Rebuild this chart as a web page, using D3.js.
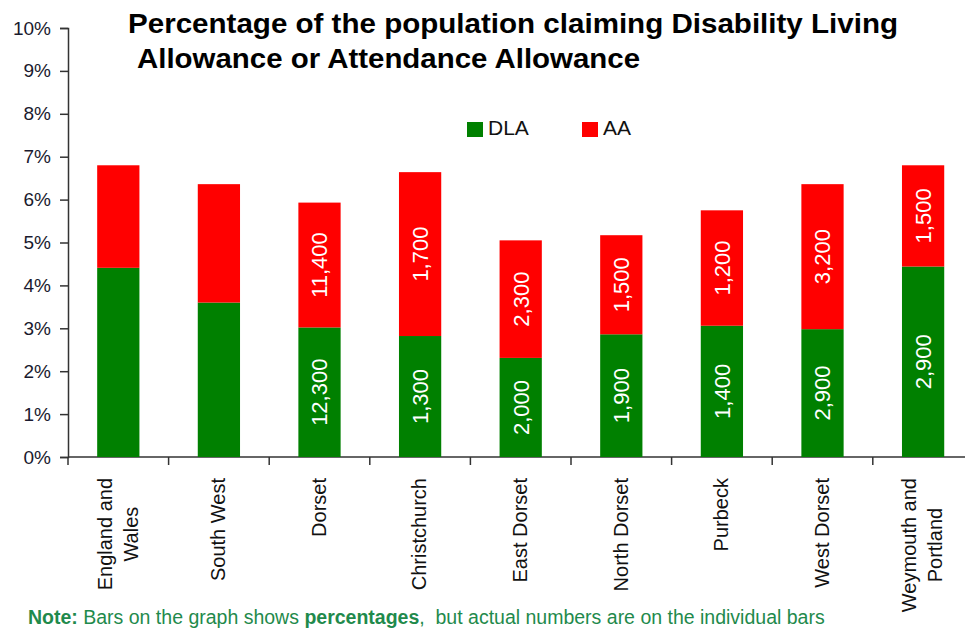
<!DOCTYPE html>
<html>
<head>
<meta charset="utf-8">
<script src="https://cdn.jsdelivr.net/npm/d3@7"></script>
<style>
  html, body { margin: 0; padding: 0; background: #fff; }
  svg { display: block; font-family: "Liberation Sans", Arial, sans-serif; }
</style>
</head>
<body>
<svg id="chart" width="965" height="631"></svg>
<script>
// Areas shown along the x axis (each entry is one or two text lines)
const areas = [
  ["England and", "Wales"],
  ["South West"],
  ["Dorset"],
  ["Christchurch"],
  ["East Dorset"],
  ["North Dorset"],
  ["Purbeck"],
  ["West Dorset"],
  ["Weymouth and", "Portland"]
];
// Share of the population claiming each allowance (%)
const dlaPct = [4.41, 3.60, 3.02, 2.82, 2.31, 2.86, 3.06, 2.98, 4.44];
const aaPct  = [2.39, 2.76, 2.91, 3.82, 2.74, 2.31, 2.69, 3.38, 2.36];
// Number of claimants printed on the bars (null = no label)
const dlaCount = [null, null, "12,300", "1,300", "2,000", "1,900", "1,400", "2,900", "2,900"];
const aaCount  = [null, null, "11,400", "1,700", "2,300", "1,500", "1,200", "3,200", "1,500"];
const yTicks = [0, 1, 2, 3, 4, 5, 6, 7, 8, 9, 10];

const svg = d3.select("#chart");
const colors = { DLA: "#008000", AA: "#ff0000" };

const x = d3.scaleBand()
  .domain(d3.range(areas.length))
  .range([68, 68 + 9 * 100.6])
  .paddingInner(0.58)
  .paddingOuter(0.29);

const y = d3.scaleLinear().domain([0, 10]).range([457, 28]);

// Axes
const yAxis = d3.axisLeft(y).tickValues(yTicks).tickFormat(d => d + "%").tickSize(8).tickPadding(9);
const gy = svg.append("g").attr("transform", "translate(68,0)").call(yAxis);
gy.select(".domain").attr("stroke", "#333").attr("stroke-width", 1.5);
gy.selectAll(".tick line").attr("stroke", "#333").attr("stroke-width", 1.5);
gy.selectAll(".tick text").attr("font-size", 19).attr("fill", "#1a1a2e")
  .attr("font-family", "Liberation Sans, Arial, sans-serif");

// x axis baseline with ticks at category boundaries
const step = x.step();
const boundaries = d3.range(areas.length + 1).map(i => 68 + i * step);
svg.append("line").attr("x1", 68).attr("x2", 965).attr("y1", y(0)).attr("y2", y(0))
  .attr("stroke", "#333").attr("stroke-width", 1.5);
svg.selectAll(".xtick").data(boundaries).join("line")
  .attr("class", "xtick")
  .attr("x1", d => d).attr("x2", d => d)
  .attr("y1", y(0)).attr("y2", y(0) + 8)
  .attr("stroke", "#333").attr("stroke-width", 1.5);

// Stacked bars
const rows = areas.map((a, i) => ({ i, dla: dlaPct[i], aa: aaPct[i], dlaN: dlaCount[i], aaN: aaCount[i] }));
const bars = svg.append("g");
bars.selectAll(".dla").data(rows).join("rect")
  .attr("x", d => x(d.i)).attr("width", x.bandwidth())
  .attr("y", d => y(d.dla)).attr("height", d => y(0) - y(d.dla))
  .attr("fill", colors.DLA);
bars.selectAll(".aa").data(rows).join("rect")
  .attr("x", d => x(d.i)).attr("width", x.bandwidth())
  .attr("y", d => y(d.dla + d.aa)).attr("height", d => y(d.dla) - y(d.dla + d.aa))
  .attr("fill", colors.AA);

// Counts written vertically inside each segment
const labelG = svg.append("g").attr("font-size", 22).attr("fill", "#fff");
function segLabel(cx, cy, txt) {
  labelG.append("text")
    .attr("transform", `translate(${cx},${cy}) rotate(-90)`)
    .attr("text-anchor", "middle").attr("dy", "0.36em")
    .text(txt);
}
rows.forEach(d => {
  const cx = x(d.i) + x.bandwidth() / 2;
  if (d.dlaN) segLabel(cx, (y(0) + y(d.dla)) / 2, d.dlaN);
  if (d.aaN) segLabel(cx, (y(d.dla) + y(d.dla + d.aa)) / 2, d.aaN);
});

// Category labels, rotated; multi-line labels are centred on their longest line
const xl = svg.append("g").attr("font-size", 20).attr("fill", "#111");
areas.forEach((lines, i) => {
  const cx = x(i) + x.bandwidth() / 2;
  const n = lines.length;
  const texts = lines.map((t, k) => {
    const off = (k - (n - 1) / 2) * 26 - 1;
    return xl.append("text")
      .attr("transform", `translate(${cx + off},478) rotate(-90)`)
      .attr("text-anchor", "end").attr("dy", "0.36em")
      .text(t);
  });
  if (n > 1) {
    const widths = texts.map(t => t.node().getComputedTextLength());
    const maxW = d3.max(widths);
    texts.forEach((t, k) => {
      const off = (k - (n - 1) / 2) * 26 - 1;
      t.attr("text-anchor", "middle")
        .attr("transform", `translate(${cx + off},${478 + maxW / 2}) rotate(-90)`);
    });
  }
});

// Title
const title = svg.append("g").attr("font-size", 28).attr("font-weight", "bold").attr("fill", "#000");
title.append("text").attr("x", 128).attr("y", 33)
  .attr("textLength", 770).attr("lengthAdjust", "spacingAndGlyphs")
  .text("Percentage of the population claiming Disability Living");
title.append("text").attr("x", 137).attr("y", 68)
  .attr("textLength", 503).attr("lengthAdjust", "spacingAndGlyphs")
  .text("Allowance or Attendance Allowance");

// Legend
const legend = [["DLA", 467], ["AA", 582]];
legend.forEach(([k, lx]) => {
  svg.append("rect").attr("x", lx).attr("y", 122).attr("width", 16).attr("height", 15).attr("fill", colors[k]);
  svg.append("text").attr("x", lx + 21).attr("y", 135).attr("font-size", 21).attr("fill", "#111").text(k);
});

// Footnote
const note = svg.append("text").attr("x", 28).attr("y", 624).attr("font-size", 19.5).attr("fill", "#1f8a4c");
note.append("tspan").attr("font-weight", "bold").text("Note:");
note.append("tspan").text(" Bars on the graph shows ");
note.append("tspan").attr("font-weight", "bold").text("percentages");
note.append("tspan").text(",\u00a0 but actual numbers are on the individual bars");
</script>
</body>
</html>
